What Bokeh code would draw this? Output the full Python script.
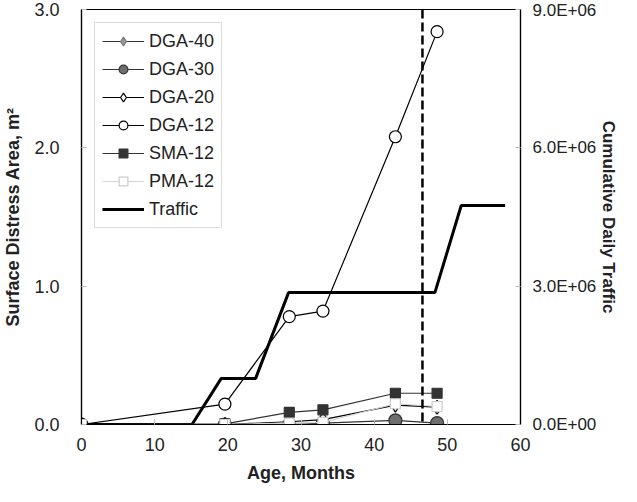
from bokeh.plotting import figure
from bokeh.models import (Range1d, LinearAxis, FixedTicker, Legend, LegendItem, Span)
from bokeh.embed import file_html
from bokeh.resources import INLINE

# ---- data ----
ages = [0, 19.6, 28.4, 33.0, 42.9, 48.6]
dga40 = [0, 0, 0, 0, 0, 0]
dga30 = [0, 0, 0, 0.01, 0.03, 0.01]
dga20 = [0, 0, 0.02, 0.035, 0.14, 0.125]
dga12 = [0, 0.147, 0.78, 0.82, 2.08, 2.84]
sma12 = [0, 0.005, 0.087, 0.106, 0.226, 0.226]
pma12 = [0, 0, 0.01, 0.015, 0.15, 0.13]

traffic_age = [0, 15.1, 19.1, 23.8, 28.3, 48.3, 51.9, 57.9]
traffic = [0, 0, 1.0e6, 1.0e6, 2.86e6, 2.86e6, 4.75e6, 4.75e6]

marker_age = 46.6

x_ticks = [0, 10, 20, 30, 40, 50, 60]
y_ticks = [0.0, 1.0, 2.0, 3.0]
y_tick_labels = ["0.0", "1.0", "2.0", "3.0"]
y2_ticks = [0, 3e6, 6e6, 9e6]
y2_tick_labels = ["0.0E+00", "3.0E+06", "6.0E+06", "9.0E+06"]

FONT = "Liberation Sans"

p = figure(width=621, height=486, output_backend="svg", toolbar_location=None,
           x_range=Range1d(0, 60), y_range=Range1d(0, 3),
           min_border_left=76, min_border_right=101, min_border_top=9,
           min_border_bottom=62)
p.extra_y_ranges = {"traffic": Range1d(0, 9e6)}
p.grid.visible = False
p.outline_line_color = "black"
p.outline_line_width = 1.2
p.background_fill_color = "white"
p.border_fill_color = "white"

def style_axis(ax, label, size="18px"):
    ax.axis_label = label
    ax.axis_label_text_font = FONT
    ax.axis_label_text_font_style = "bold"
    ax.axis_label_text_font_size = size
    ax.axis_label_text_color = "#222222"
    ax.major_label_text_font = FONT
    ax.major_label_text_font_size = size
    ax.major_label_text_color = "#222222"
    ax.axis_line_color = "black"
    ax.axis_line_width = 1.2
    ax.major_tick_in = 5
    ax.major_tick_out = 0
    ax.major_tick_line_color = "#bbbbbb"
    ax.minor_tick_line_color = None

xa = p.xaxis[0]
style_axis(xa, "Age, Months")
xa.ticker = FixedTicker(ticks=x_ticks)
xa.major_label_standoff = 13
xa.axis_label_standoff = 9

ya = p.yaxis[0]
style_axis(ya, "Surface Distress Area, m²")
ya.ticker = FixedTicker(ticks=y_ticks)
ya.major_label_overrides = dict(zip(y_ticks, y_tick_labels))
ya.major_label_standoff = 22
ya.axis_label_standoff = 8

y2 = LinearAxis(y_range_name="traffic")
style_axis(y2, "Cumulative Daily Traffic", size="17px")
y2.ticker = FixedTicker(ticks=y2_ticks)
y2.major_label_overrides = dict(zip(y2_ticks, y2_tick_labels))
y2.major_label_standoff = 12
y2.axis_label_standoff = 0
p.add_layout(y2, "right")

# traffic step line and vertical dashed line
tr = p.line(traffic_age, traffic, y_range_name="traffic", line_color="black", line_width=3)
p.add_layout(Span(location=marker_age, dimension="height", line_color="black",
                  line_width=2.5, line_dash="9 4"))

series = [
    ("DGA-40", dga40, "diamond", 14, "#9a9a9a", "#777777", "#333333"),
    ("DGA-30", dga30, "circle", 13, "#6e6e6e", "#333333", "#333333"),
    ("DGA-20", dga20, "diamond", 14, "white", "black", "black"),
    ("DGA-12", dga12, "circle", 12, "white", "black", "black"),
    ("SMA-12", sma12, "square", 10, "#333333", "#333333", "#333333"),
    ("PMA-12", pma12, "square", 10, "white", "#cccccc", "#d4d4d4"),
]

items = []
for name, vals, mk, sz, fill, mline, lcol in series:
    lr = p.line(ages, vals, line_color=lcol, line_width=1.2)
    sr = p.scatter(ages, vals, marker=mk, size=sz, fill_color=fill, line_color=mline,
                   line_width=1.2)
    items.append(LegendItem(label=name, renderers=[lr, sr]))
items.append(LegendItem(label="Traffic", renderers=[tr]))

legend = Legend(items=items, location="top_left", margin=13, padding=7,
                spacing=6, glyph_height=22, glyph_width=42, label_standoff=5,
                label_text_font=FONT, label_text_font_size="18px",
                label_text_color="#222222", label_height=22,
                border_line_color="#bbbbbb", border_line_width=1,
                background_fill_color="white", background_fill_alpha=1)
p.add_layout(legend, "center")

open("out.html", "w").write(file_html(p, INLINE))
